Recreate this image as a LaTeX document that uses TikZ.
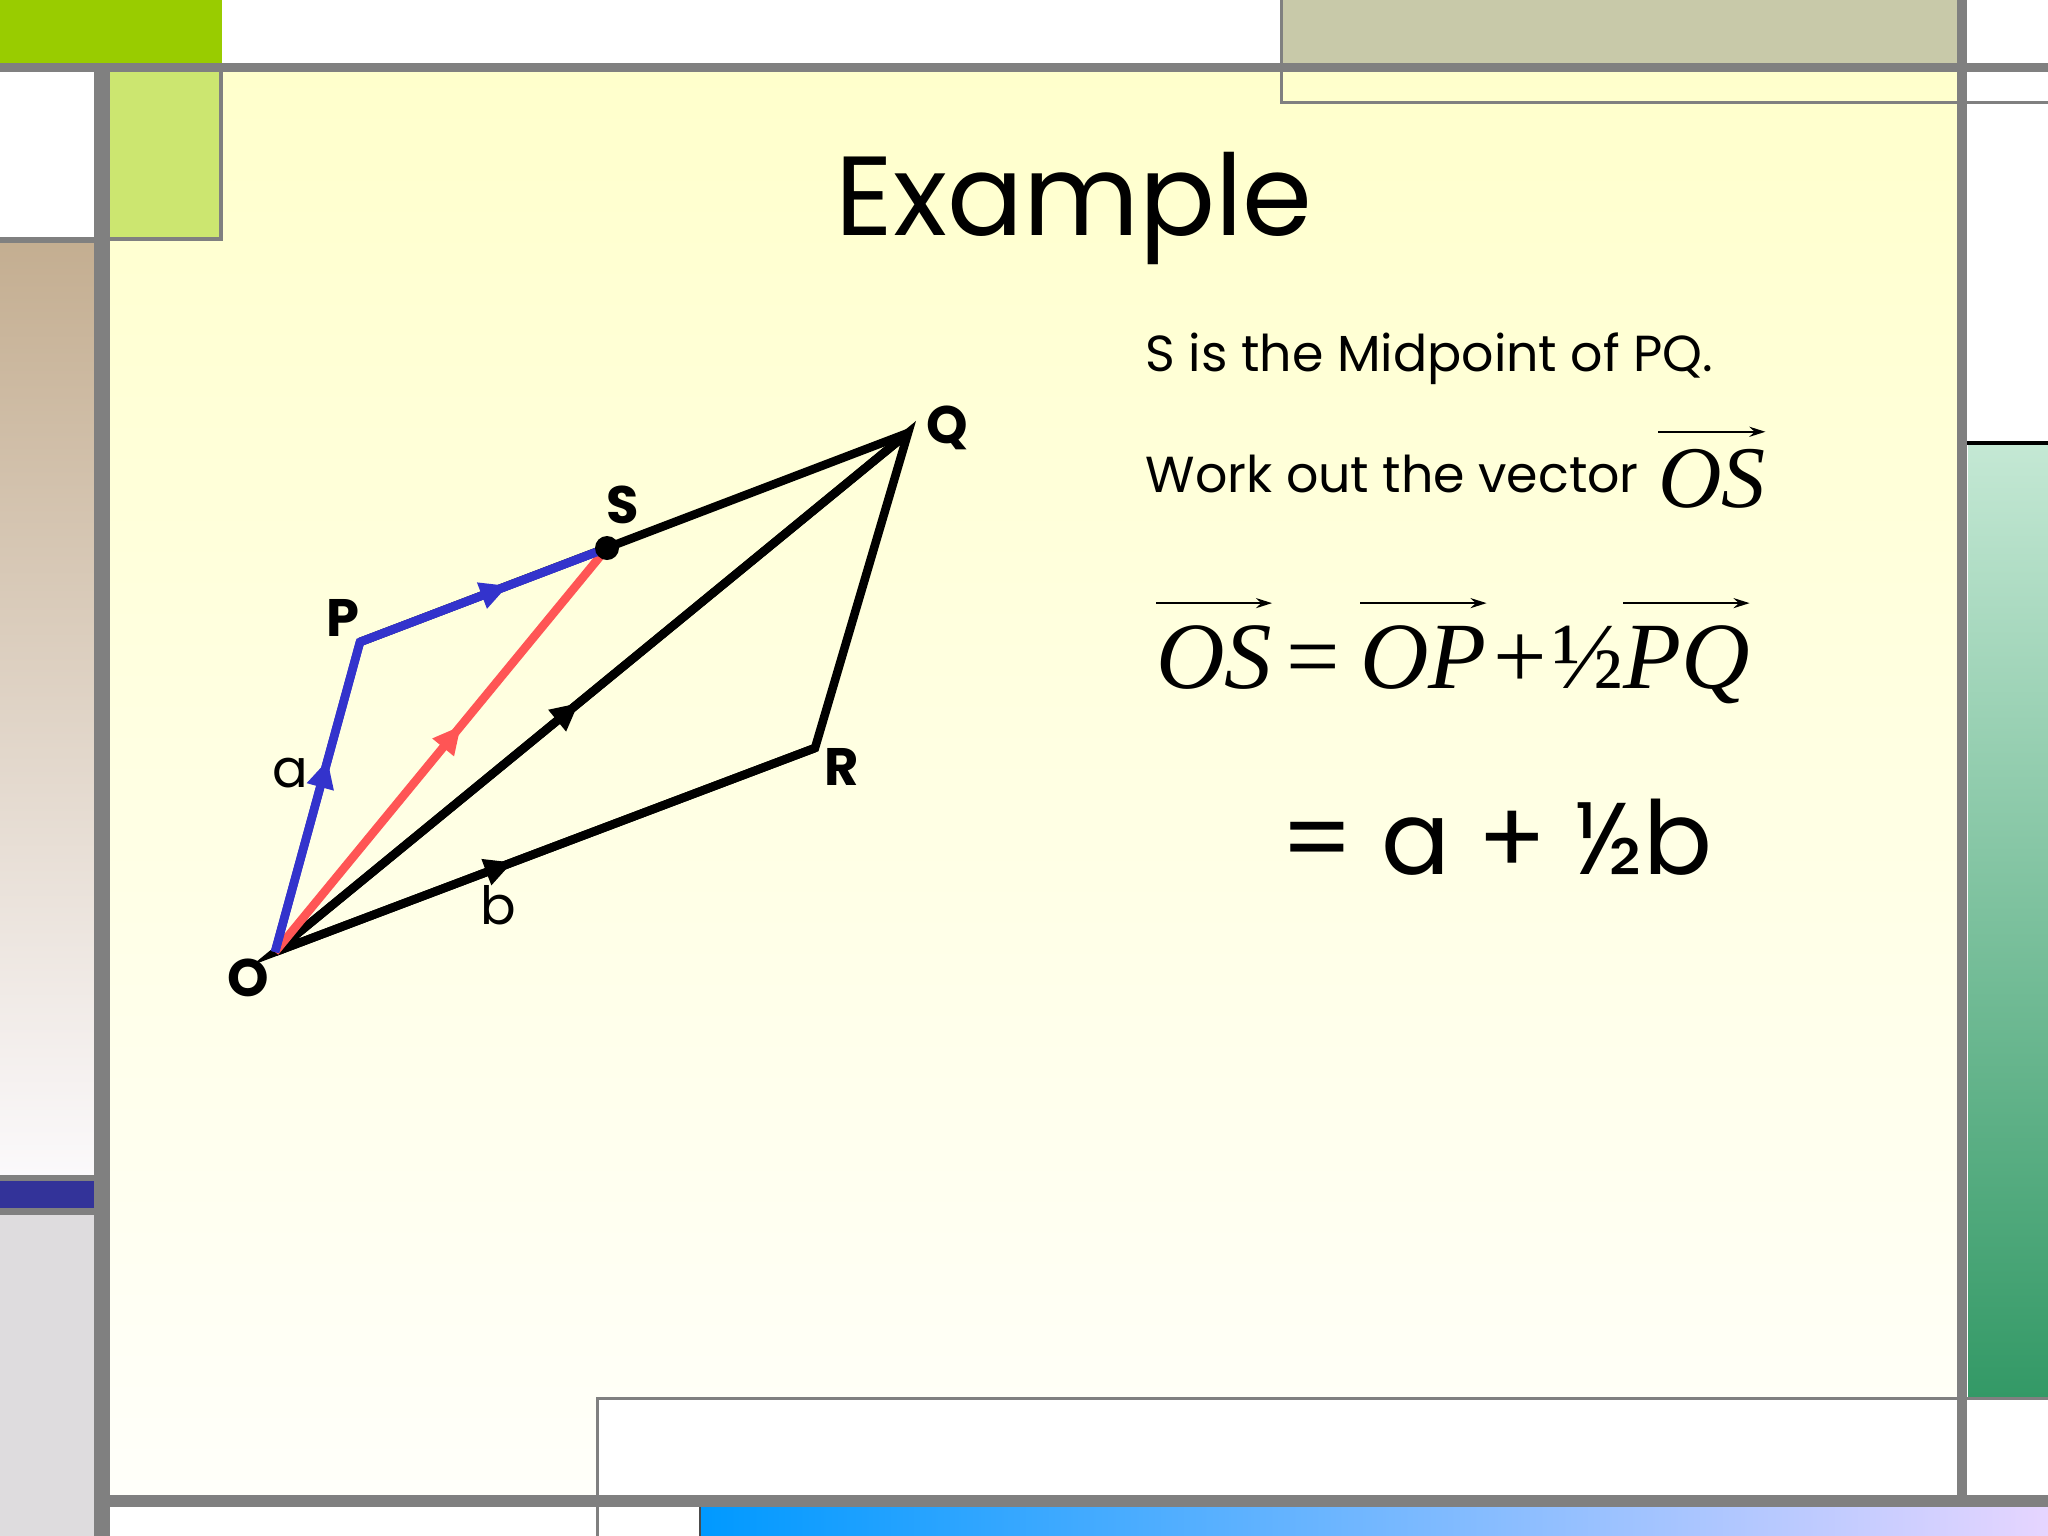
\documentclass[tikz,border=0pt]{standalone}
\usepackage{fontspec}
\setmainfont{Poppins}
\newfontfamily\timesf{Liberation Serif}
\usetikzlibrary{arrows.meta,decorations.markings}
\definecolor{grayb}{HTML}{808080}
\definecolor{limeA}{HTML}{99CC00}
\definecolor{limeB}{HTML}{CCE670}
\definecolor{khaki}{HTML}{C8C9A9}
\definecolor{navyb}{HTML}{333399}
\definecolor{lgray}{HTML}{DEDCDE}
\definecolor{tanT}{HTML}{C4AE91}
\definecolor{tanB}{HTML}{FBF9FB}
\definecolor{vblue}{HTML}{3333CC}
\definecolor{vred}{HTML}{FF5555}
\definecolor{bgY}{HTML}{FFFFCC}
\definecolor{bgW}{HTML}{FFFFFA}
\definecolor{grT}{HTML}{C4E8D4}
\definecolor{grB}{HTML}{339966}
\definecolor{blL}{HTML}{0099FF}
\definecolor{blR}{HTML}{E6D5FF}
\tikzset{
  vline/.style={line width=0.085cm, line join=miter},
  midarr/.style={postaction={decorate},
    decoration={markings, mark=at position #1 with {\arrow{Triangle[length=0.28cm,width=0.26cm]}}}},
  lbl/.style={font=\fontsize{15}{18}\selectfont\bfseries, inner sep=0pt},
  lblr/.style={font=\fontsize{15}{18}\selectfont, inner sep=0pt},
  eqn/.style={font=\timesf\fontsize{27}{32}\selectfont, inner sep=0pt, outer sep=0pt, anchor=base west},
  vecarr/.style={line width=0.025cm, -{Stealth[length=0.16cm,width=0.1cm]}},
  thinb/.style={grayb, line width=0.03cm}
}
\begin{document}
\begin{tikzpicture}[x=0.01cm,y=-0.01cm]
\useasboundingbox (0,0) rectangle (2048,1536);
\fill[white] (0,0) rectangle (2048,1536);
% main area
\shade[top color=bgY, bottom color=bgW] (110,72) rectangle (1957,1495);
% top left
\fill[limeA] (0,0) rectangle (222,63);
\fill[limeB] (110,72) rectangle (221,238);
\draw[thinb, line width=0.04cm] (221,63) -- (221,239) -- (110,239);
% left column
\fill[white] (0,72) rectangle (94,237);
\fill[grayb] (0,237) rectangle (110,243);
\shade[top color=tanT, bottom color=tanB] (0,243) rectangle (94,1175);
\fill[grayb] (0,1175) rectangle (94,1181);
\fill[navyb] (0,1181) rectangle (94,1208);
\fill[grayb] (0,1208) rectangle (94,1215);
\fill[lgray] (0,1215) rectangle (94,1536);
\fill[grayb] (94,63) rectangle (110,1536);
% top bar
\fill[grayb] (0,63) rectangle (2048,72);
% top right
\fill[khaki] (1280,0) rectangle (1957,63);
\draw[thinb] (1281,0) -- (1281,102) -- (2048,102);
% right column
\fill[black] (1963,441) rectangle (2048,445);
\shade[top color=grT, bottom color=grB] (1968,445) rectangle (2048,1397);
\fill[grayb] (1957,0) rectangle (1967,1536);
% bottom
\fill[white] (597,1398) rectangle (1957,1495);
\draw[thinb] (2048,1398) -- (597,1398) -- (597,1536);
\fill[grayb] (110,1495) rectangle (2048,1507);
\shade[left color=blL, right color=blR] (700,1507) rectangle (2048,1536);
\draw[black!70, line width=0.02cm] (700,1536) -- (700,1507);

% title
\node[font=\fontsize{32}{38}\selectfont, anchor=base, inner sep=0pt] (title) at (1074,235) {Example};
% texts
\node[font=\fontsize{14.4}{18}\selectfont, anchor=base west, inner sep=0pt] (t1) at (1145,371) {S is the Midpoint of PQ.};
\node[font=\fontsize{14.4}{18}\selectfont, anchor=base west, inner sep=0pt] (t2) at (1145,492) {Work out the vector};
\node[eqn, font=\timesf\itshape\fontsize{25}{30}\selectfont] (os0) at (1658,507) {OS};
\draw[vecarr] ([yshift=0.17cm]os0.north west) -- ([yshift=0.17cm]os0.north east);
% equation
\node[eqn] (os1) at (1156,688) {\itshape OS};
\node[eqn] (eq1) at (1286,688) {=};
\node[eqn] (op1) at (1360,688) {\itshape OP};
\node[eqn] (pl1) at (1493,688) {+};
\node[eqn] (hf1) at (1552,688) {½};
\node[eqn] (pq1) at (1623,688) {\itshape PQ};
\draw[vecarr] ([yshift=0.22cm]os1.north west) -- ([yshift=0.22cm]os1.north east);
\draw[vecarr] ([yshift=0.22cm]op1.north west) -- ([yshift=0.22cm]op1.north east);
\draw[vecarr] ([yshift=0.22cm]pq1.north west) -- ([yshift=0.22cm]pq1.north east);
\node[font=\fontsize{29}{34}\selectfont, anchor=base west, inner sep=0pt] (res) at (1280,874) {= a + ½b};

% diagram
\coordinate (O) at (275,952);
\coordinate (P) at (360,642);
\coordinate (S) at (607,548);
\coordinate (Q) at (908,433);
\coordinate (R) at (815,748);
\draw[vline, black] (P) -- (Q);
\draw[vline, black] (O) -- (Q) -- (R) -- cycle;
\draw[vline, black, midarr=0.48] (O) -- (Q);
\draw[vline, black, midarr=0.44] (O) -- (R);
\draw[vline, vred, midarr=0.56] (O) -- (S);
\draw[vline, vblue] (O) -- (P) -- (S);
\draw[vline, vblue, midarr=0.62] (O) -- (P);
\draw[vline, vblue, midarr=0.6] (P) -- (S);
\fill[black] (S) circle (0.12cm);
\node[lbl] (lO) at (248,978) {O};
\node[lbl] (lP) at (343,618) {P};
\node[lbl] (lS) at (623,505) {S};
\node[lbl] (lQ) at (947,428) {Q};
\node[lbl] (lR) at (842,767) {R};
\node[lblr] (la) at (290,773) {a};
\node[lblr] (lb) at (498,905) {b};
\end{tikzpicture}
\end{document}
